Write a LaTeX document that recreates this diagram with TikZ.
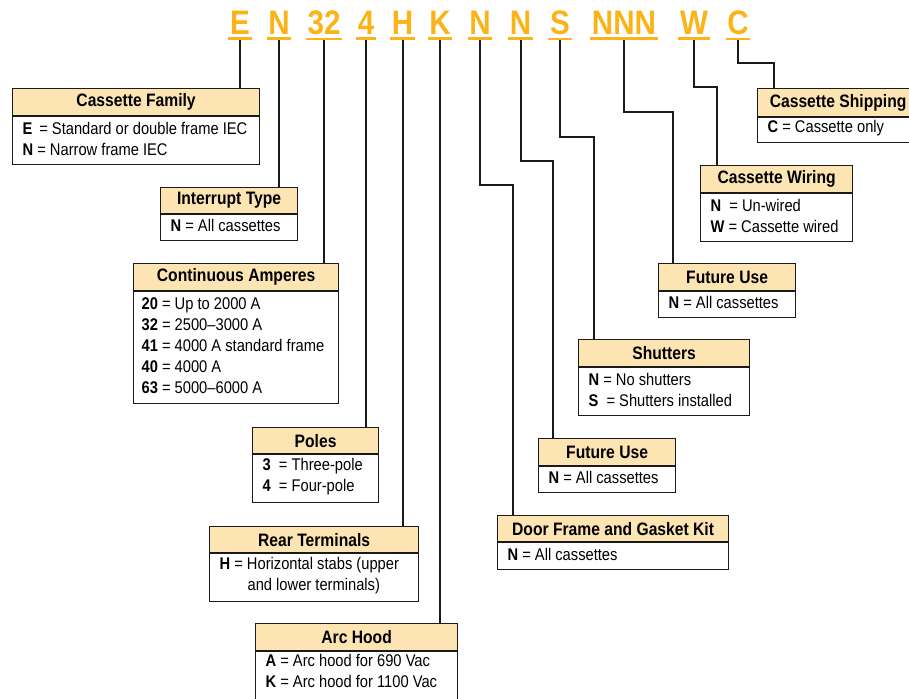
\documentclass[tikz,border=0pt]{standalone}
\usepackage{fontspec}
\setmainfont[FakeStretch=0.87]{Liberation Sans}
\usetikzlibrary{positioning}
\definecolor{Gold}{HTML}{FBB317}
\definecolor{Peach}{HTML}{FDE4B3}
\definecolor{Ink}{HTML}{1A1A1A}

\begin{document}
\begin{tikzpicture}[x=1pt,y=-1pt,
    codechar/.style={font=\fontsize{34}{34}\selectfont\bfseries,text=Gold,
      anchor=base,inner xsep=1.5pt,inner ysep=4pt},
    link/.style={line width=2pt,Ink},
    headbox/.style={draw=Ink,line width=1.2pt,fill=Peach,anchor=north west,
      inner sep=0pt,minimum height=27pt,font=\fontsize{18}{20}\selectfont\bfseries},
    bodybox/.style={draw=Ink,line width=1.2pt,below=0pt of #1,inner xsep=10pt,
      inner ysep=2pt,align=flush left,font=\fontsize{16.9}{21}\selectfont,
      execute at end node={\endgraf\vspace*{4pt}}}]
  \useasboundingbox (0,0) rectangle (909,698);

  % code letters on top
  \foreach \n/\x/\t in {Fam/240/E,Int/279/N,Amp/324/32,Pole/366/4,Rear/402.5/H,
      Hood/440/K,Door/480/N,Futa/520.5/N,Shut/560/S,Futb/624/NNN,Wire/694/W,Ship/738/C} {
    \node[codechar] (c\n) at (\x,34.5) {\t};
  }

  % boxes, left column
  \node[headbox,minimum width=247pt] (famHead) at (12,88) {Cassette Family};
  \node[bodybox=famHead,text width=227pt,minimum height=48pt] (famBody)
    {\textbf{E}\,\ = Standard or double frame IEC\\\textbf{N} = Narrow frame IEC};

  \node[headbox,minimum width=137pt,minimum height=26pt] (intHead) at (160,187) {Interrupt Type};
  \node[bodybox=intHead,text width=117pt,minimum height=26pt] (intBody)
    {\textbf{N} = All cassettes};

  \node[headbox,minimum width=205pt] (ampHead) at (133,263) {Continuous Amperes};
  \node[bodybox=ampHead,text width=189pt,inner xsep=8pt,minimum height=112pt] (ampBody)
    {\textbf{20} = Up to 2000 A\\\textbf{32} = 2500--3000 A\\\textbf{41} = 4000 A standard frame\\
     \textbf{40} = 4000 A\\\textbf{63} = 5000--6000 A};

  \node[headbox,minimum width=126pt,minimum height=26pt] (poleHead) at (252,427) {Poles};
  \node[bodybox=poleHead,text width=106pt,minimum height=48pt] (poleBody)
    {\textbf{3}\ \ = Three-pole\\\textbf{4}\ \ = Four-pole};

  \node[headbox,minimum width=209pt,minimum height=26pt] (rearHead) at (209,526) {Rear Terminals};
  \node[bodybox=rearHead,text width=189pt,minimum height=48pt] (rearBody)
    {\textbf{H} = Horizontal stabs (upper\\\hspace*{28pt}and lower terminals)};

  \node[headbox,minimum width=202pt] (hoodHead) at (255,623) {Arc Hood};
  \node[bodybox=hoodHead,text width=182pt] (hoodBody)
    {\textbf{A} = Arc hood for 690 Vac\\\textbf{K} = Arc hood for 1100 Vac\\\mbox{}};

  % boxes, right column
  \node[headbox,minimum width=231pt,minimum height=26pt] (doorHead) at (497,515) {Door Frame and Gasket Kit};
  \node[bodybox=doorHead,text width=211pt,minimum height=27pt] (doorBody)
    {\textbf{N} = All cassettes};

  \node[headbox,minimum width=137pt] (futaHead) at (538,438) {Future Use};
  \node[bodybox=futaHead,text width=117pt,minimum height=26pt] (futaBody)
    {\textbf{N} = All cassettes};

  \node[headbox,minimum width=171pt] (shutHead) at (578,339) {Shutters};
  \node[bodybox=shutHead,text width=151pt,minimum height=48pt] (shutBody)
    {\textbf{N} = No shutters\\\textbf{S}\ \ = Shutters installed};

  \node[headbox,minimum width=137pt] (futbHead) at (658,263) {Future Use};
  \node[bodybox=futbHead,text width=117pt,minimum height=26pt] (futbBody)
    {\textbf{N} = All cassettes};

  \node[headbox,minimum width=152pt] (wireHead) at (700,165) {Cassette Wiring};
  \node[bodybox=wireHead,text width=132pt,minimum height=48pt] (wireBody)
    {\textbf{N}\ \ = Un-wired\\\textbf{W} = Cassette wired};

  \node[headbox,minimum width=161pt,minimum height=28pt] (shipHead) at (757,88) {Cassette Shipping};
  \node[bodybox=shipHead,text width=141pt,minimum height=25pt] (shipBody)
    {\textbf{C} = Cassette only};

  % straight links
  \foreach \n/\b in {Fam/fam,Int/int,Amp/amp,Pole/pole,Rear/rear,Hood/hood} {
    \draw[link] (c\n.south) -- (c\n.south |- \b Head.north);
  }

  % elbow links
  \coordinate (kDoor) at (513,185);
  \coordinate (kFuta) at (553,161);
  \coordinate (kShut) at (594,137);
  \coordinate (kFutb) at (673,112);
  \coordinate (kWire) at (717,87);
  \coordinate (kShip) at (774,63);
  \foreach \n/\b in {Door/door,Futa/futa,Shut/shut,Futb/futb,Wire/wire,Ship/ship} {
    \draw[link] (c\n.south) |- (k\n) -- (k\n |- \b Head.north);
  }

  % underlines
  \foreach \n in {Fam,Int,Amp,Pole,Rear,Hood,Door,Futa,Shut,Futb,Wire,Ship} {
    \draw[Gold,line width=2.5pt] (c\n.south west) -- (c\n.south east);
  }
\end{tikzpicture}
\end{document}
